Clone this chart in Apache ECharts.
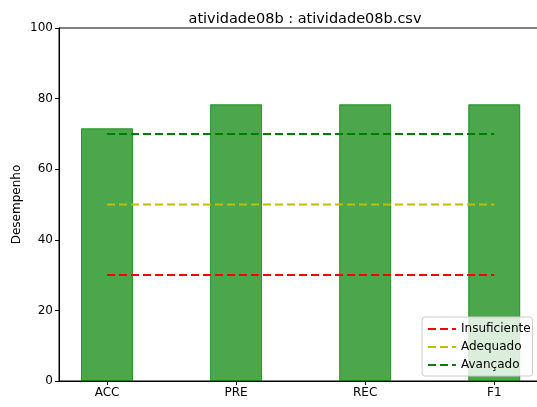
<!DOCTYPE html>
<html>
<head>
<meta charset="utf-8">
<script src="https://cdn.jsdelivr.net/npm/echarts@6/dist/echarts.min.js"></script>
<style>
  html, body { margin: 0; padding: 0; background: #fff; }
  #chart { width: 537px; height: 407px; }
</style>
</head>
<body>
<div id="chart"></div>
<script>
var categories = ['ACC', 'PRE', 'REC', 'F1'];
var desempenho = [71.6, 78.4, 78.4, 78.4];
var limiarNomes = ['Insuficiente', 'Adequado', 'Avançado'];
var limiarValores = [30, 50, 70];
var limiarCores = ['#ff0000', '#bfbf00', '#008000'];
var yTicks = [0, 20, 40, 60, 80, 100];

var chart = echarts.init(document.getElementById('chart'), null, { renderer: 'canvas' });

var font = 'DejaVu Sans';

var series = [{
  type: 'bar',
  name: 'Desempenho',
  barWidth: 52,
  data: desempenho.map(function (v, i) { return [i, v]; }),
  itemStyle: {
    color: 'rgba(0,128,0,0.7)',
    borderColor: 'rgba(0,128,0,0.75)',
    borderWidth: 1
  },
  z: 1
}];

limiarNomes.forEach(function (nome, k) {
  series.push({
    type: 'line',
    name: nome,
    symbol: 'none',
    data: [[0, limiarValores[k]], [categories.length - 1, limiarValores[k]]],
    lineStyle: { color: limiarCores[k], width: 2, type: [8, 4] },
    itemStyle: { color: limiarCores[k] },
    z: 3
  });
});

var option = {
  backgroundColor: '#ffffff',
  animation: false,
  title: {
    text: 'atividade08b : atividade08b.csv',
    left: 300,
    textAlign: 'center',
    top: 7,
    textStyle: { fontFamily: font, fontSize: 14.5, fontWeight: 'normal', color: '#000' }
  },
  grid: {
    left: 59, width: 483, top: 28, height: 353,
    outerBoundsMode: 'none',
    containLabel: false,
    show: true, borderColor: '#000', borderWidth: 1
  },
  legend: {
    data: limiarNomes,
    orient: 'vertical',
    left: 422,
    top: 317,
    itemWidth: 28,
    itemHeight: 10,
    itemGap: 6,
    padding: [6, 2, 5, 5],
    backgroundColor: 'rgba(255,255,255,0.8)',
    borderColor: '#cccccc',
    borderWidth: 1,
    borderRadius: 3,
    itemStyle: { opacity: 0 },
    lineStyle: { width: 2, type: [8, 4] },
    textStyle: { fontFamily: font, fontSize: 12, color: '#000' }
  },
  xAxis: {
    type: 'value',
    min: -0.372,
    max: 3.37,
    splitLine: { show: false },
    axisLine: { lineStyle: { color: '#000' } },
    axisTick: { show: true, length: 4, customValues: [0, 1, 2, 3], lineStyle: { color: '#000' } },
    axisLabel: {
      customValues: [0, 1, 2, 3],
      formatter: function (v) { return categories[Math.round(v)]; },
      color: '#000', fontFamily: font, fontSize: 12, margin: 6
    }
  },
  yAxis: {
    type: 'value',
    min: yTicks[0],
    max: yTicks[yTicks.length - 1],
    interval: 20,
    name: 'Desempenho',
    nameLocation: 'middle',
    nameGap: 36,
    nameMoveOverlap: false,
    nameTextStyle: { fontFamily: font, fontSize: 12, color: '#000' },
    splitLine: { show: false },
    axisLine: { show: true, onZero: false, lineStyle: { color: '#000' } },
    axisTick: { show: true, length: 4, lineStyle: { color: '#000' } },
    axisLabel: { color: '#000', fontFamily: font, fontSize: 12, margin: 6 }
  },
  series: series
};

chart.setOption(option);
</script>
</body>
</html>
